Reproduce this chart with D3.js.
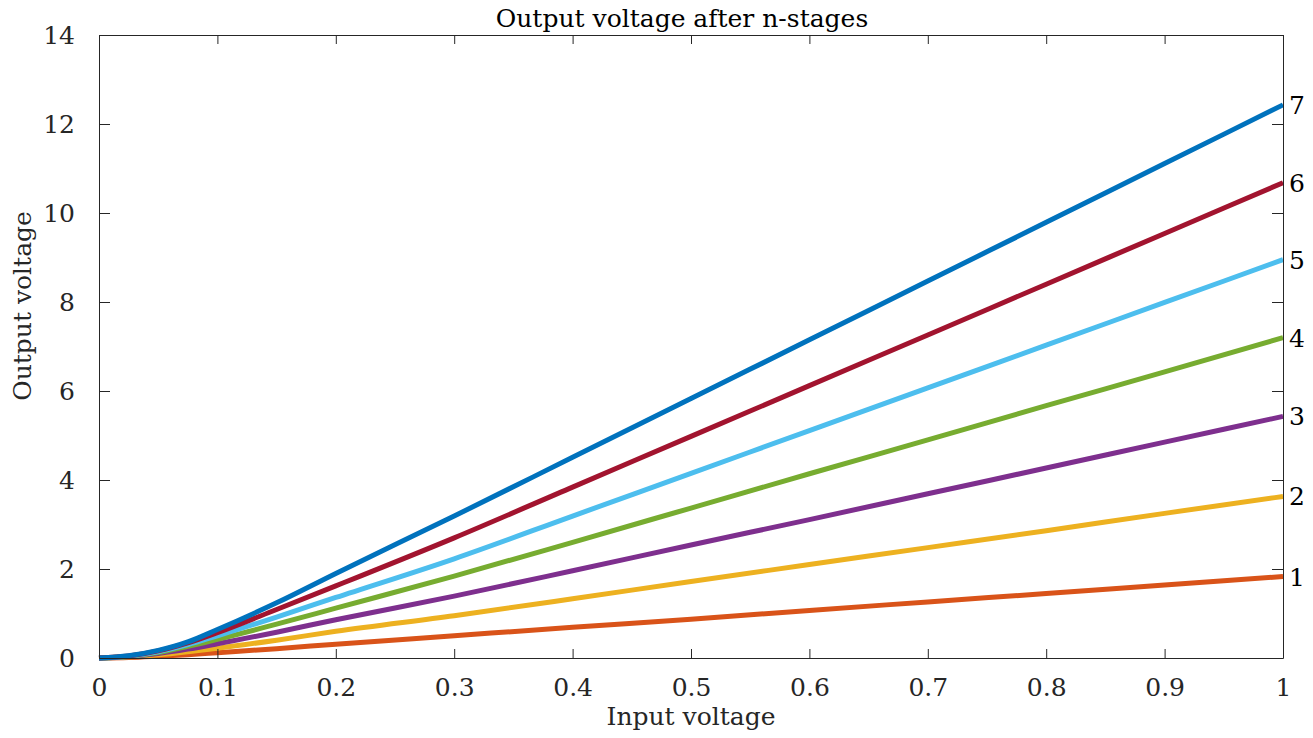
<!DOCTYPE html>
<html>
<head>
<meta charset="utf-8">
<script src="https://cdn.jsdelivr.net/npm/d3@7"></script>
<style>
  html, body { margin: 0; padding: 0; background: #fff; }
  svg { display: block; font-family: "DejaVu Serif", serif; }
</style>
</head>
<body>
<div id="chart"></div>
<script>
// ── Data ──────────────────────────────────────────────────────
const xValues = [0, 0.025, 0.05, 0.075, 0.1, 0.15, 0.2, 0.3, 0.4, 0.5, 0.6, 0.7, 0.8, 0.9, 1.0];

const stage1 = [0, 0.01, 0.04, 0.075, 0.12, 0.21, 0.31, 0.50, 0.69, 0.87, 1.07, 1.26, 1.45, 1.64, 1.83];
const stage2 = [0, 0.02, 0.07, 0.14, 0.22, 0.40, 0.60, 0.95, 1.33, 1.72, 2.10, 2.48, 2.86, 3.25, 3.63];
const stage3 = [0, 0.03, 0.10, 0.20, 0.32, 0.58, 0.86, 1.39, 1.96, 2.54, 3.11, 3.69, 4.27, 4.85, 5.43];
const stage4 = [0, 0.035, 0.12, 0.26, 0.42, 0.76, 1.12, 1.84, 2.60, 3.37, 4.14, 4.90, 5.67, 6.43, 7.20];
const stage5 = [0, 0.04, 0.14, 0.30, 0.50, 0.92, 1.36, 2.23, 3.19, 4.15, 5.11, 6.07, 7.03, 7.99, 8.95];
const stage6 = [0, 0.045, 0.16, 0.34, 0.57, 1.09, 1.62, 2.70, 3.84, 4.98, 6.12, 7.26, 8.40, 9.54, 10.68];
const stage7 = [0, 0.05, 0.17, 0.36, 0.64, 1.24, 1.90, 3.19, 4.51, 5.83, 7.15, 8.47, 9.79, 11.11, 12.43];

const seriesValues = [stage1, stage2, stage3, stage4, stage5, stage6, stage7];
const seriesLabels = ['1', '2', '3', '4', '5', '6', '7'];
const seriesColors = ['#D95319', '#EDB120', '#7E2F8E', '#77AC30', '#4DBEEE', '#A2142F', '#0072BD'];

const xTicks = [0, 0.1, 0.2, 0.3, 0.4, 0.5, 0.6, 0.7, 0.8, 0.9, 1];
const yTicks = [0, 2, 4, 6, 8, 10, 12, 14];

const titleText = 'Output voltage after n-stages';
const xLabelText = 'Input voltage';
const yLabelText = 'Output voltage';

// ── Layout ────────────────────────────────────────────────────
const W = 1313, H = 738;
const plot = { left: 99, right: 1283, top: 35, bottom: 658 };
const axisColor = '#262626';
const fontSize = 25;

const svg = d3.select('#chart').append('svg')
  .attr('width', W)
  .attr('height', H);

const x = d3.scaleLinear().domain([0, 1]).range([plot.left, plot.right]);
const y = d3.scaleLinear().domain([0, 14]).range([plot.bottom, plot.top]);

// ── Lines ─────────────────────────────────────────────────────
const line = d3.line()
  .x(d => x(d[0]))
  .y(d => y(d[1]))
  .curve(d3.curveMonotoneX);

const linesG = svg.append('g');
seriesValues.forEach((vals, i) => {
  linesG.append('path')
    .datum(xValues.map((xv, j) => [xv, vals[j]]))
    .attr('fill', 'none')
    .attr('stroke', seriesColors[i])
    .attr('stroke-width', 5)
    .attr('d', line);
});

// ── Axes (MATLAB style box, inward ticks) ─────────────────────
function styleAxis(g) {
  g.selectAll('.domain').attr('stroke', axisColor).attr('stroke-width', 1);
  g.selectAll('.tick line').attr('stroke', axisColor).attr('stroke-width', 1);
  g.selectAll('.tick text')
    .attr('fill', axisColor)
    .attr('font-family', '"DejaVu Serif", serif')
    .attr('font-size', fontSize);
}

svg.append('g')
  .attr('transform', `translate(0,${plot.bottom})`)
  .call(d3.axisBottom(x).tickValues(xTicks).tickFormat(d3.format('~g'))
    .tickSizeInner(-9).tickSizeOuter(0).tickPadding(20))
  .call(styleAxis);

svg.append('g')
  .attr('transform', `translate(0,${plot.top})`)
  .call(d3.axisTop(x).tickValues(xTicks).tickFormat('')
    .tickSizeInner(-9).tickSizeOuter(0))
  .call(styleAxis);

svg.append('g')
  .attr('transform', `translate(${plot.left},0)`)
  .call(d3.axisLeft(y).tickValues(yTicks)
    .tickSizeInner(-11).tickSizeOuter(0).tickPadding(24))
  .call(styleAxis);

svg.append('g')
  .attr('transform', `translate(${plot.right},0)`)
  .call(d3.axisRight(y).tickValues(yTicks).tickFormat('')
    .tickSizeInner(-11).tickSizeOuter(0))
  .call(styleAxis);

// ── Stage labels at line ends ─────────────────────────────────
svg.append('g').selectAll('text')
  .data(seriesValues)
  .join('text')
  .attr('x', plot.right + 6)
  .attr('y', d => y(d[d.length - 1]))
  .attr('dy', '0.36em')
  .attr('font-size', fontSize)
  .attr('fill', '#000')
  .text((d, i) => seriesLabels[i]);

// ── Titles ────────────────────────────────────────────────────
svg.append('text')
  .attr('x', 682)
  .attr('y', 27)
  .attr('text-anchor', 'middle')
  .attr('font-size', fontSize)
  .attr('fill', '#000')
  .text(titleText);

svg.append('text')
  .attr('x', (plot.left + plot.right) / 2)
  .attr('y', 725)
  .attr('text-anchor', 'middle')
  .attr('font-size', fontSize)
  .attr('fill', axisColor)
  .text(xLabelText);

svg.append('text')
  .attr('transform', 'translate(31,306) rotate(-90)')
  .attr('text-anchor', 'middle')
  .attr('font-size', fontSize)
  .attr('fill', axisColor)
  .text(yLabelText);
</script>
</body>
</html>
